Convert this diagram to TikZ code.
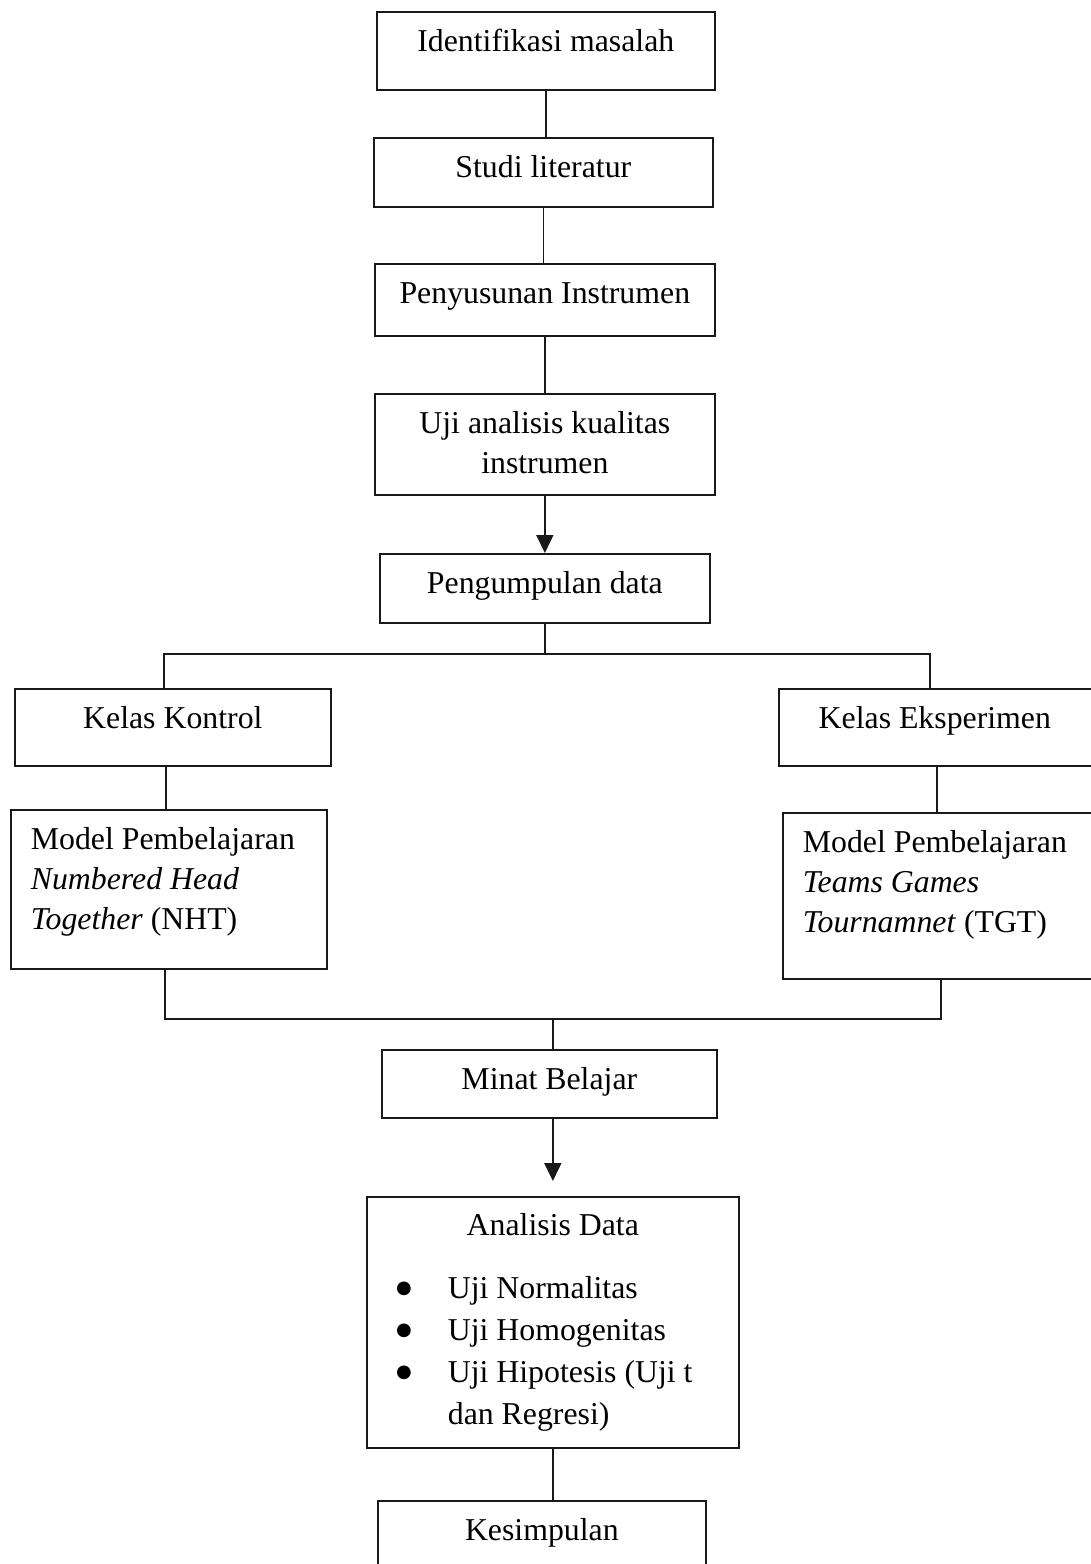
\documentclass[tikz,border=0pt]{standalone}
\usepackage{fontspec}
\setmainfont{Liberation Serif}
\newfontfamily\djv{DejaVu Sans}
\usetikzlibrary{arrows.meta}
\newcommand{\cbx}[3]{\parbox[c][#2pt][t]{#1pt}{\centering\rule{0pt}{40pt}#3}}
\newcommand{\lbx}[3]{\parbox[c][#2pt][t]{#1pt}{\leftskip=20pt\rightskip=0pt plus 1fil\rule{0pt}{40pt}#3}}
\newcommand{\bul}{\makebox[0pt]{\raisebox{5pt}{\djv\fontsize{18pt}{20pt}\selectfont ●}}}
\tikzset{
  box/.style={draw=black!90, line width=1.7pt, rectangle, inner sep=0pt, anchor=north west,
    font=\fontsize{31.8pt}{40pt}\selectfont},
  conn/.style={draw=black!90, line width=1.7pt},
  arr/.style={conn, -{Triangle[length=18pt,width=17pt]}}
}
\begin{document}
\begin{tikzpicture}[x=1pt,y=-1pt]
\useasboundingbox (0,0) rectangle (1091,1564);
\clip (0,0) rectangle (1091,1564);
\fill[white] (0,0) rectangle (1091,1564);

\node[box] (idf) at (376,11) {\cbx{338}{78}{Identifikasi masalah}};
\node[box] (stu) at (373,137) {\cbx{339}{69}{Studi literatur}};
\node[box] (pen) at (374,263) {\cbx{340}{72}{Penyusunan Instrumen}};
\node[box] (uji) at (374,393) {\cbx{340}{101}{Uji analisis kualitas\\instrumen}};
\node[box] (pgd) at (379,553) {\cbx{330}{69}{Pengumpulan data}};
\node[box] (kk) at (14,688) {\cbx{316}{77}{Kelas Kontrol}};
\node[box] (ke) at (778,688) {\cbx{322}{77}{\hspace*{-10pt}Kelas Eksperimen}};
\node[box] (nht) at (10,809) {\lbx{316}{159}{Model Pembelajaran\\\textit{Numbered Head}\\\textit{Together} (NHT)}};
\node[box] (tgt) at (782,812) {\lbx{322}{166}{Model Pembelajaran\\\textit{Teams Games}\\\textit{Tournamnet} (TGT)}};
\node[box] (min) at (381,1049) {\cbx{335}{68}{Minat Belajar}};
\node[box] (ana) at (366,1196) {\parbox[c][251pt][t]{372pt}{\centering\rule{0pt}{39pt}Analisis Data\par
  \vspace{21pt}\raggedright\baselineskip=42pt
  \hspace*{37pt}\bul\hspace*{44pt}Uji Normalitas\\
  \hspace*{37pt}\bul\hspace*{44pt}Uji Homogenitas\\
  \hspace*{37pt}\bul\hspace*{44pt}Uji Hipotesis (Uji t\\
  \hspace*{81pt}dan Regresi)\par}};
\node[box] (kes) at (377,1500) {\cbx{328}{90}{Kesimpulan}};

\coordinate (bl) at (164,654);
\coordinate (br) at (930,654);
\coordinate (jl) at (165,1019);
\coordinate (jr) at (941,1019);

\draw[conn] (idf.south) -- (idf.south |- stu.north);
\draw[conn] (stu.south) -- (stu.south |- pen.north);
\draw[conn] (pen.south) -- (pen.south |- uji.north);
\draw[arr] (uji.south) -- (uji.south |- pgd.north);
\draw[conn] (uji.south |- pgd.south) -- (uji.south |- bl);
\draw[conn] (bl |- kk.north) -- (bl) -- (br) -- (br |- ke.north);
\draw[conn] ([xshift=-7pt]kk.south) -- ([xshift=-7pt]kk.south |- nht.north);
\draw[conn] ([xshift=-3pt]ke.south) -- ([xshift=-3pt]ke.south |- tgt.north);
\draw[conn] (jl |- nht.south) -- (jl) -- (jr) -- (jr |- tgt.south);
\draw[conn] (ana.north |- jl) -- (ana.north |- min.north);
\draw[arr, shorten >=15pt] (ana.north |- min.south) -- (ana.north);
\draw[conn] (ana.south) -- (ana.south |- kes.north);
\end{tikzpicture}
\end{document}
